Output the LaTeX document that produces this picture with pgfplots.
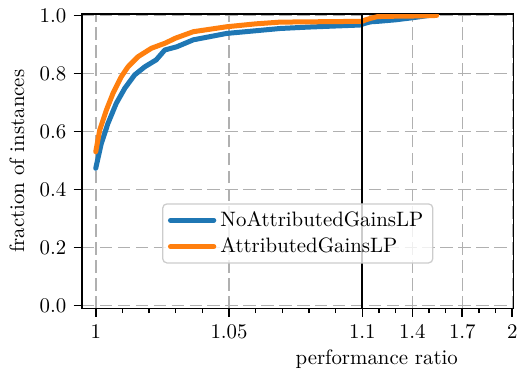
\documentclass[border=0pt]{standalone}
\usepackage{pgfplots}
\pgfplotsset{compat=1.18}
\usepackage{pgfplotstable}
\definecolor{tabblue}{HTML}{1F77B4}
\definecolor{taborange}{HTML}{FF7F0E}
\definecolor{gridgray}{HTML}{B0B0B0}
\definecolor{legedge}{HTML}{CCCCCC}

\pgfplotstableread{
x y
1.0000 0.473
1.0021 0.559
1.0046 0.628
1.0077 0.697
1.0109 0.749
1.0146 0.795
1.0184 0.823
1.0227 0.847
1.0245 0.866
1.0259 0.881
1.0304 0.892
1.0366 0.916
1.0491 0.938
1.0691 0.955
1.0800 0.960
1.0992 0.967
1.1100 0.972
1.1500 0.978
1.2000 0.980
1.3000 0.985
1.4000 0.992
1.5000 1.000
}\noattr

\pgfplotstableread{
x y
1.0000 0.530
1.0015 0.605
1.0040 0.674
1.0065 0.732
1.0096 0.789
1.0121 0.823
1.0159 0.858
1.0209 0.887
1.0259 0.904
1.0300 0.922
1.0366 0.944
1.0491 0.961
1.0600 0.971
1.0691 0.977
1.0800 0.978
1.0916 0.979
1.1000 0.980
1.1200 0.985
1.1500 0.990
1.1900 0.996
1.2500 0.997
1.4000 0.998
1.5460 1.000
}\attr

\begin{document}
\begin{tikzpicture}
\begin{axis}[
  at={(0,0)}, anchor=south west,
  scale only axis, width=207.12pt, height=141.36pt,
  xmin=-0.103, xmax=3.134, ymin=-0.0103, ymax=1.005,
  xtick={0,1,2,2.375,2.75,3.125},
  xticklabels={1,1.05,1.1,1.4,1.7,2},
  minor xtick={0.2,0.4,0.6,0.8,1.2,1.4,1.6,1.8,2.125,2.25,2.5,2.625,2.875,3.0},
  ytick={0,0.2,0.4,0.6,0.8,1},
  yticklabel style={/pgf/number format/.cd, fixed, fixed zerofill, precision=1},
  tick pos=left,
  tick align=outside,
  major tick length=4pt,
  minor tick length=2.2pt,
  every tick/.style={black, line width=0.8pt},
  minor tick style={black, line width=0.6pt},
  axis line style={line width=0.9pt},
  grid=major,
  major grid style={gridgray, dash pattern=on 6pt off 2.6pt, line width=0.75pt},
  xlabel={performance ratio},
  ylabel={fraction of instances},
  xlabel style={at={(axis description cs:0.683,0)}, anchor=base, yshift=-27pt},
  ylabel style={at={(axis description cs:-0.151,0.5)}, anchor=center, rotate=0},
  legend style={at={(0.5,0.255)}, anchor=center, draw=legedge, line width=0.6pt,
    rounded corners=2pt, fill=white, fill opacity=0.8, text opacity=1,
    inner xsep=2.5pt, inner ysep=1.5pt},
  legend cell align=left,
  legend image code/.code={\draw[#1] (0pt,0pt) -- (20.8pt,0pt);},
]
\addplot[tabblue, line width=2.4pt, line join=round, line cap=round]
  table[x expr={\thisrow{x}>1.1 ? 2+(\thisrow{x}-1.1)*1.25 : (\thisrow{x}-1)*20}, y=y] {\noattr};
\addlegendentry{NoAttributedGainsLP}
\addplot[taborange, line width=2.4pt, line join=round, line cap=round]
  table[x expr={\thisrow{x}>1.1 ? 2+(\thisrow{x}-1.1)*1.25 : (\thisrow{x}-1)*20}, y=y] {\attr};
\addlegendentry{AttributedGainsLP}
\addplot[black, line width=0.9pt, forget plot] coordinates {(2,-0.02) (2,1.02)};
\end{axis}
\pgfresetboundingbox
\useasboundingbox (-39.36pt,-29.04pt) rectangle (208.8pt,148.08pt);
\end{tikzpicture}
\end{document}
